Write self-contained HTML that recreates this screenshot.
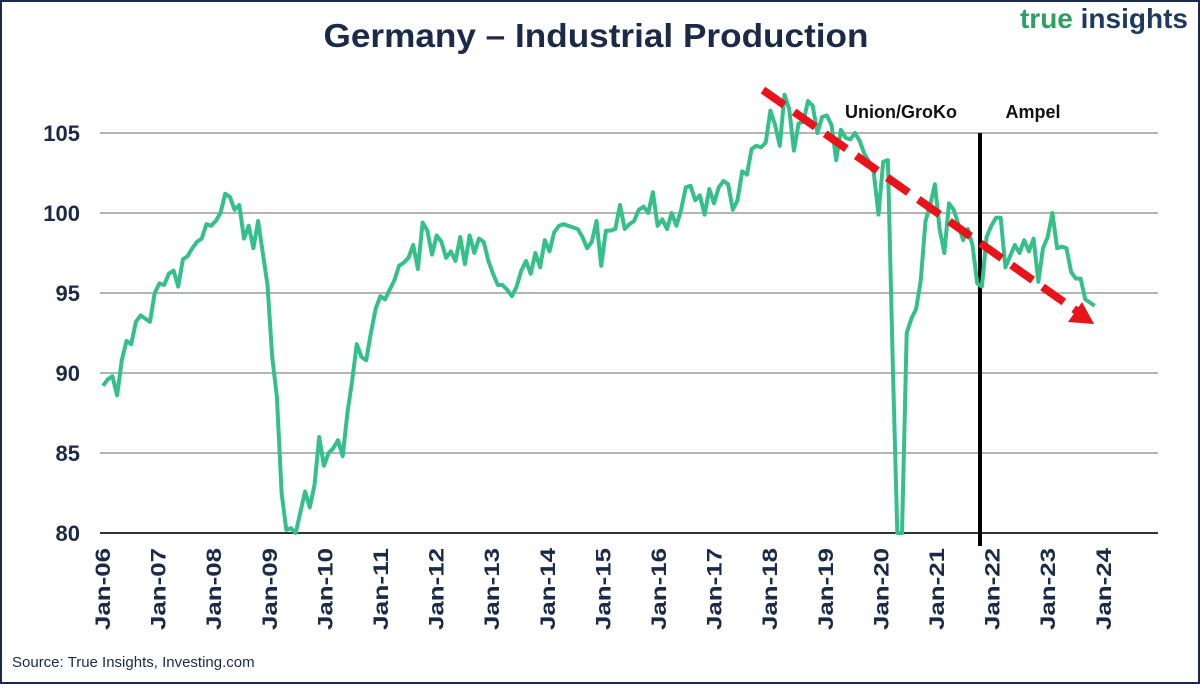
<!DOCTYPE html>
<html><head><meta charset="utf-8"><style>
html,body{margin:0;padding:0;background:#fff;}
body{width:1200px;height:684px;overflow:hidden;font-family:"Liberation Sans",sans-serif;}
</style></head><body>
<svg id="chart" width="1200" height="684" viewBox="0 0 1200 684" xmlns="http://www.w3.org/2000/svg">
<rect x="1" y="1" width="1198" height="682" fill="#fff" stroke="#1b2a47" stroke-width="2"/>
<text x="596" y="47" text-anchor="middle" font-size="33" font-weight="bold" fill="#1b2a47" textLength="545" lengthAdjust="spacingAndGlyphs">Germany – Industrial Production</text>
<text x="1188" y="28" text-anchor="end" font-size="28" font-weight="bold"><tspan fill="#2e9e63">true</tspan><tspan fill="#1e3a5f"> insights</tspan></text>
<g id="grid"></g><g id="yticks"></g><g id="xticks"></g>
<line x1="980" y1="133" x2="980" y2="546" stroke="#000" stroke-width="4"/>
<text x="901" y="118" text-anchor="middle" font-size="18" font-weight="bold" fill="#111">Union/GroKo</text>
<text x="1033" y="118" text-anchor="middle" font-size="18" font-weight="bold" fill="#111">Ampel</text>
<path id="series" fill="none" stroke="#35c08a" stroke-width="4" stroke-linejoin="round"/>
<line x1="763" y1="90" x2="1078" y2="312" stroke="#e8131b" stroke-width="8" stroke-dasharray="26,12"/>
<polygon points="1094,324 1068,322 1082,302" fill="#e8131b"/>
<text x="12" y="667" font-size="15" fill="#1b2a47">Source: True Insights, Investing.com</text>
</svg>
<script>
const yTicks=[80,85,90,95,100,105];
const xLabels=["Jan-06","Jan-07","Jan-08","Jan-09","Jan-10","Jan-11","Jan-12","Jan-13","Jan-14","Jan-15","Jan-16","Jan-17","Jan-18","Jan-19","Jan-20","Jan-21","Jan-22","Jan-23","Jan-24"];
const startYear=2006;
const values=[
89.2,89.6,89.8,88.6,90.8,92.0,91.8,93.2,93.6,93.4,93.2,95.0,
95.6,95.5,96.2,96.4,95.4,97.1,97.3,97.8,98.2,98.4,99.3,99.2,
99.5,100.0,101.2,101.0,100.2,100.5,98.4,99.2,97.8,99.5,97.5,95.5,
91.0,88.5,82.5,80.2,80.3,79.8,81.3,82.6,81.6,83.0,86.0,84.2,
85.0,85.3,85.8,84.8,87.5,89.5,91.8,91.0,90.8,92.5,94.0,94.8,
94.6,95.2,95.8,96.7,96.9,97.2,98.0,96.5,99.4,98.9,97.4,98.6,
98.2,97.2,97.6,97.0,98.5,96.8,98.6,97.5,98.4,98.2,97.0,96.2,
95.5,95.5,95.2,94.8,95.4,96.4,97.0,96.2,97.5,96.6,98.3,97.6,
98.8,99.2,99.3,99.2,99.1,99.0,98.5,97.8,98.2,99.5,96.7,98.9,
98.9,99.0,100.5,99.0,99.3,99.5,100.2,100.4,100.0,101.3,99.2,99.6,
99.0,100.0,99.2,100.2,101.6,101.7,100.8,101.1,99.9,101.5,100.6,101.6,
102.0,101.8,100.2,100.8,102.6,102.4,104.0,104.2,104.1,104.4,106.4,105.5,
104.2,107.4,106.5,103.9,105.6,105.7,107.0,106.7,105.0,106.0,106.1,105.5,
103.3,105.2,104.7,104.6,105.0,104.5,103.7,103.2,102.5,99.9,103.2,103.3,
91.0,80.0,80.0,92.5,93.4,94.0,95.8,99.5,100.5,101.8,99.0,97.5,
100.6,100.2,99.3,98.3,99.0,98.0,95.6,95.4,98.5,99.2,99.7,99.7,
96.6,97.3,98.0,97.5,98.3,97.6,98.4,95.7,97.8,98.5,100.0,97.8,
97.9,97.8,96.3,95.9,95.9,94.6,94.4,94.2
];
const x0=103,yearW=56.4,labelW=55.6,left=100,right=1158;
function xs(m){return x0+m*yearW/12;}
function xl(i){return x0+i*labelW;}
function ys(v){return 133+(105-v)*16;}
const NS="http://www.w3.org/2000/svg";
const grid=document.getElementById('grid'),yt=document.getElementById('yticks'),xt=document.getElementById('xticks');
yTicks.forEach(t=>{
  const l=document.createElementNS(NS,'line');
  l.setAttribute('x1',left);l.setAttribute('x2',right);l.setAttribute('y1',ys(t));l.setAttribute('y2',ys(t));
  l.setAttribute('stroke',t===80?'#333':'#888');l.setAttribute('stroke-width',t===80?2:1.2);
  
  
  grid.appendChild(l);
  const tx=document.createElementNS(NS,'text');
  tx.setAttribute('x',80);tx.setAttribute('y',ys(t)+8);tx.setAttribute('text-anchor','end');
  tx.setAttribute('font-size','22');tx.setAttribute('font-weight','bold');tx.setAttribute('fill','#1b2a47');
  tx.textContent=t;
  
  
  yt.appendChild(tx);
});
xLabels.forEach((lab,i)=>{
  const x=xl(i);
  const tx=document.createElementNS(NS,'text');
  tx.setAttribute('transform','translate('+(x+7)+',548) rotate(-90)');
  tx.setAttribute('text-anchor','end');tx.setAttribute('font-size','21');tx.setAttribute('font-weight','bold');tx.setAttribute('fill','#1b2a47');
  tx.setAttribute('textLength','82');
  tx.setAttribute('lengthAdjust','spacingAndGlyphs');
  tx.textContent=lab;
  
  
  xt.appendChild(tx);
});
let d='';
values.forEach((v,i)=>{d+=(i?'L':'M')+xs(i).toFixed(1)+','+ys(Math.max(v,80)).toFixed(1);});
document.getElementById('series').setAttribute('d',d);
</script>
</body></html>
